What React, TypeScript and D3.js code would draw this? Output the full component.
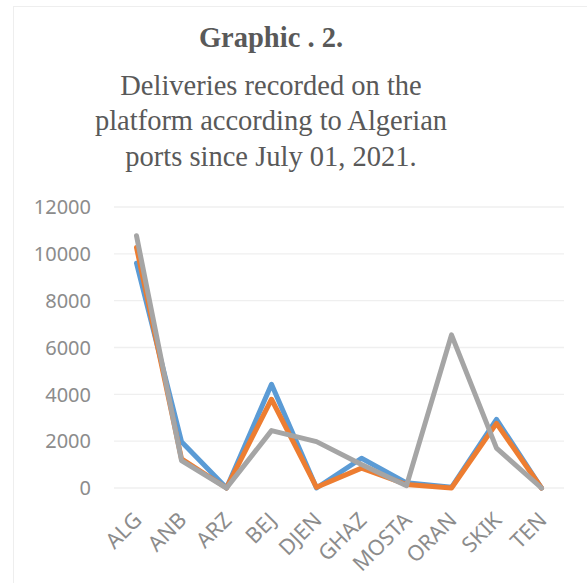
import React, { useEffect, useRef } from 'react';
import * as d3 from 'd3';

const ports = ['ALG', 'ANB', 'ARZ', 'BEJ', 'DJEN', 'GHAZ', 'MOSTA', 'ORAN', 'SKIK', 'TEN'];
const seriesBlue = [9600, 1980, 0, 4430, 0, 1270, 220, 30, 2930, 0];
const seriesOrange = [10270, 1250, 0, 3790, 30, 850, 150, 0, 2760, 0];
const seriesGray = [10770, 1170, 0, 2450, 1980, 1000, 100, 6540, 1700, 0];
const yTicks = [0, 2000, 4000, 6000, 8000, 10000, 12000];
const titleLines = [
  'Deliveries recorded on the',
  'platform according to Algerian',
  'ports since July 01, 2021.',
];

const series = [
  { name: 'blue', values: seriesBlue, color: '#5B9BD5' },
  { name: 'orange', values: seriesOrange, color: '#ED7D31' },
  { name: 'gray', values: seriesGray, color: '#A5A5A5' },
];

const W = 587;
const H = 583;

function App() {
  const ref = useRef<SVGSVGElement | null>(null);

  useEffect(() => {
    const svg = d3.select(ref.current);
    svg.selectAll('*').remove();

    // chart frame
    svg.append('rect')
      .attr('x', 13.5).attr('y', 6.5)
      .attr('width', 620).attr('height', 620)
      .attr('fill', '#fff').attr('stroke', '#eeeeee');

    // title
    const title = svg.append('g')
      .attr('font-family', '"Liberation Serif", "Times New Roman", serif')
      .attr('fill', '#595959')
      .attr('text-anchor', 'middle');
    title.append('text')
      .attr('x', 271).attr('y', 47)
      .attr('font-size', 28.5).attr('font-weight', 'bold')
      .text('Graphic . 2.');
    const baselines = [94.5, 130, 165.5];
    titleLines.forEach((t, i) => {
      title.append('text')
        .attr('x', 271).attr('y', baselines[i])
        .attr('font-size', 28.5)
        .text(t);
    });

    const x = d3.scaleBand().domain(ports).range([114, 564]);
    const y = d3.scaleLinear().domain([0, 12000]).range([488, 207]);

    // gridlines
    svg.append('g').selectAll('line')
      .data(yTicks)
      .join('line')
      .attr('x1', 114).attr('x2', 564)
      .attr('y1', d => y(d)).attr('y2', d => y(d))
      .attr('stroke', '#efefef').attr('stroke-width', 1.3);

    // y axis labels
    svg.append('g').selectAll('text')
      .data(yTicks)
      .join('text')
      .attr('x', 91).attr('y', d => y(d))
      .attr('dy', '0.36em')
      .attr('text-anchor', 'end')
      .attr('font-family', '"Noto Sans", sans-serif')
      .attr('font-size', 20)
      .attr('fill', '#8c8c8c')
      .text(d => String(d));

    // x axis labels
    svg.append('g').selectAll('text')
      .data(ports)
      .join('text')
      .attr('transform', d => `translate(${(x(d) as number) + x.bandwidth() / 2 + 1},${516}) rotate(-45)`)
      .attr('text-anchor', 'end')
      .attr('dy', '0.36em')
      .attr('font-family', '"Noto Sans", sans-serif')
      .attr('font-size', 21.5)
      .attr('fill', '#8c8c8c')
      .text(d => d);

    const line = d3.line<number>()
      .x((_, i) => (x(ports[i]) as number) + x.bandwidth() / 2)
      .y(d => y(d));

    svg.append('g').selectAll('path')
      .data(series)
      .join('path')
      .attr('d', s => line(s.values))
      .attr('fill', 'none')
      .attr('stroke', s => s.color)
      .attr('stroke-width', 5)
      .attr('stroke-linejoin', 'round')
      .attr('stroke-linecap', 'round');
  }, []);

  return (
    <svg
      ref={ref}
      width={W}
      height={H}
      style={{ position: 'absolute', left: 0, top: 0, background: '#fff' }}
    />
  );
}

export default App;
